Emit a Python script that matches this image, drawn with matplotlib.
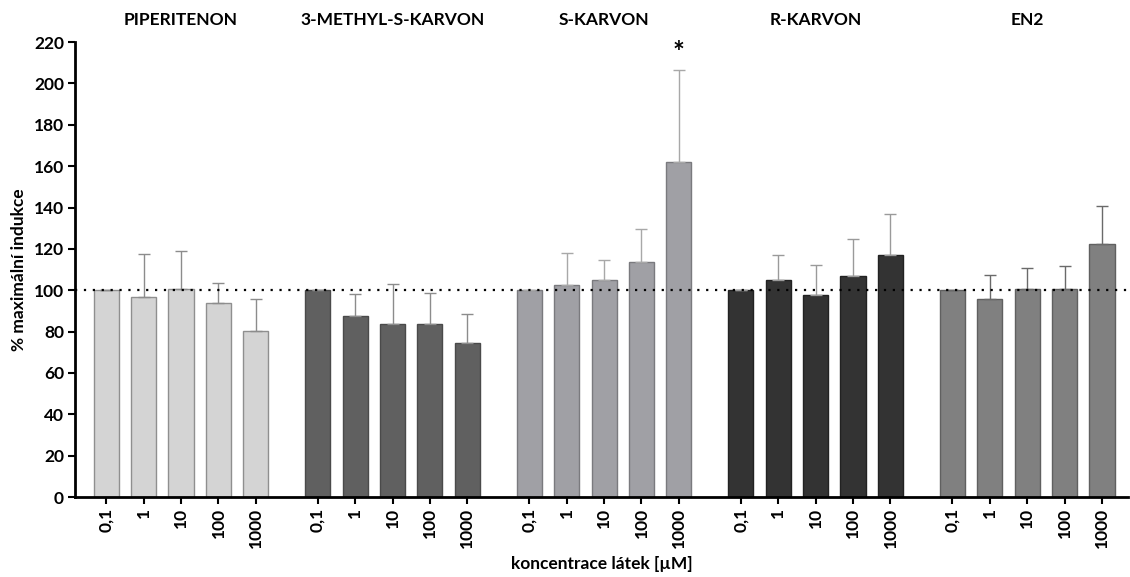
import matplotlib.pyplot as plt
import numpy as np

plt.rcParams['font.family'] = ['Lato', 'DejaVu Sans']

groups = ['PIPERITENON', '3-METHYL-S-KARVON', 'S-KARVON', 'R-KARVON', 'EN2']
conc_labels = ['0,1', '1', '10', '100', '1000']

# mean values (% of maximal induction) per group, per concentration
piperitenon = [100.0, 96.6, 100.8, 93.7, 80.1]
methyl_s_karvon = [100.0, 87.5, 83.5, 83.5, 74.3]
s_karvon = [100.0, 102.7, 105.1, 113.8, 161.9]
r_karvon = [100.0, 105.1, 97.8, 106.9, 117.2]
en2 = [100.0, 95.8, 100.8, 100.8, 122.4]

# upper error (SEM) per bar
piperitenon_err = [0.0, 20.8, 18.1, 9.8, 15.9]
methyl_s_karvon_err = [0.0, 10.9, 19.6, 15.4, 14.2]
s_karvon_err = [0.0, 15.3, 9.7, 16.0, 44.4]
r_karvon_err = [0.0, 12.1, 14.6, 17.9, 19.5]
en2_err = [0.0, 11.4, 10.0, 10.8, 18.3]

means = [piperitenon, methyl_s_karvon, s_karvon, r_karvon, en2]
errs = [piperitenon_err, methyl_s_karvon_err, s_karvon_err, r_karvon_err, en2_err]

face_colors = ['#d4d4d4', '#606060', '#a0a0a5', '#333333', '#808080']
edge_colors = ['#8f8f8f', '#4a4a4a', '#7a7a7e', '#222222', '#606060']
err_colors = ['#8c8c8c', '#8c8c8c', '#a8a8a8', '#9a9a9a', '#6a6a6a']

group_step = 5.65
bar_w = 0.67

fig = plt.figure(figsize=(11.3, 5.77), dpi=100)
ax = fig.add_axes([0.0664, 0.1386, 0.932, 0.7884])

tick_pos, tick_lab = [], []
for g, name in enumerate(groups):
    x = np.arange(len(conc_labels)) + g * group_step
    m = np.array(means[g])
    e = np.array(errs[g])
    ax.bar(x, m, width=bar_w, color=face_colors[g], edgecolor=edge_colors[g],
           linewidth=1.0, zorder=2)
    ax.errorbar(x, m, yerr=[np.zeros_like(e), e], fmt='none', ecolor=err_colors[g],
                elinewidth=1.0, capsize=4.5, capthick=1.0, zorder=3)
    tick_pos.extend(x)
    tick_lab.extend(conc_labels)
    ax.text(x.mean(), 1.048, name, transform=ax.get_xaxis_transform(),
            ha='center', va='center', fontsize=12.5, fontweight='bold')

# significance mark on S-KARVON 1000
sx = 4 + 2 * group_step
ax.text(sx, means[2][4] + errs[2][4] + 2, '*', ha='center', va='bottom',
        fontsize=20, fontweight='bold')

ax.axhline(100, color='black', linestyle=(0, (1, 3)), linewidth=1.6, zorder=4)

ax.set_xlim(-0.83, 27.3)
ax.set_ylim(0, 220)
ax.set_yticks(np.arange(0, 221, 20))
ax.set_xticks(tick_pos)
ax.set_xticklabels(tick_lab, rotation=90, fontsize=12.5, fontweight='bold')
for lab in ax.get_yticklabels():
    lab.set_fontweight('bold')
    lab.set_fontsize(12.5)

ax.spines['top'].set_visible(False)
ax.spines['right'].set_visible(False)
ax.spines['left'].set_linewidth(2)
ax.spines['bottom'].set_linewidth(2)
ax.tick_params(axis='both', direction='out', length=5, width=1.5, color='black', pad=3)

ax.set_ylabel('% maximální indukce', fontsize=12.5, fontweight='bold', labelpad=5)
ax.set_xlabel('koncentrace látek [µM]', fontsize=12.5, fontweight='bold', va='center')
ax.xaxis.set_label_coords(0.5, -0.148)

fig.savefig('out.png', dpi=100)
